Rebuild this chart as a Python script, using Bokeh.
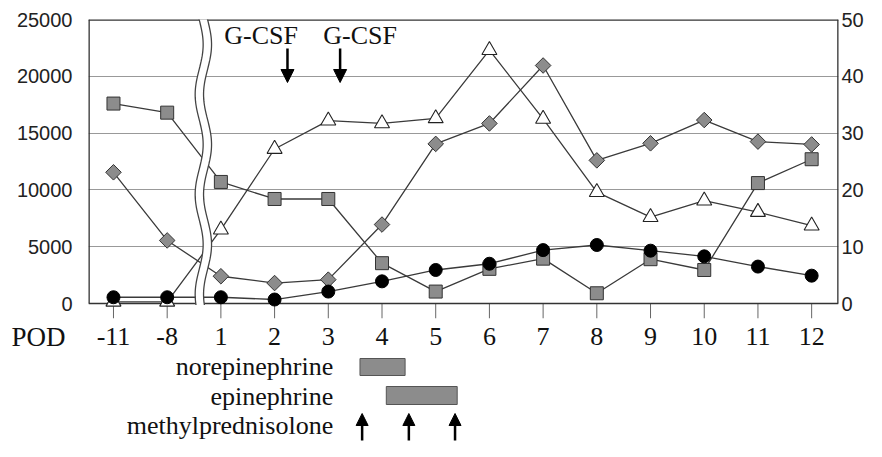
import numpy as np
from bokeh.plotting import figure
from bokeh.models import Range1d, LinearAxis, FixedTicker, Arrow, NormalHead
from bokeh.layouts import column
from bokeh.embed import file_html
from bokeh.resources import INLINE
from bokeh.core.properties import value

# ---- data ----
days = ["-11", "-8", "1", "2", "3", "4", "5", "6", "7", "8", "9", "10", "11", "12"]
square_vals = [17600, 16800, 10700, 9200, 9200, 3550, 1050, 3050, 3950, 900, 3900, 2950, 10600, 12700]
diamond_vals = [11550, 5550, 2400, 1800, 2100, 6950, 14050, 15850, 20950, 12600, 14100, 16150, 14250, 14000]
triangle_vals = [0.3, 0.3, 13.0, 27.2, 32.2, 31.7, 32.6, 44.6, 32.5, 19.6, 15.2, 18.1, 16.1, 13.7]   # right axis
circle_vals = [1.1, 1.1, 1.1, 0.7, 2.1, 3.9, 5.9, 7.0, 9.4, 10.3, 9.3, 8.3, 6.5, 4.9]             # right axis
left_ticks = [0, 5000, 10000, 15000, 20000, 25000]
right_ticks = [0, 10, 20, 30, 40, 50]
gcsf_pos = [3.24, 4.22]
treat_labels = ["norepinephrine", "epinephrine", "methylprednisolone"]
norepi_span = [4.59, 5.43]
epi_span = [5.08, 6.40]
mp_pos = [4.63, 5.50, 6.36]

pos = list(range(len(days)))
SERIF = "Liberation Serif"
SANS = "Liberation Sans"
LINE = "#3a3a3a"
TXT = 10                                   # baseline correction for text glyphs (px)

W = 866
FL, FR, FT, FB = 88, 839, 19, 303          # plot box edges (page px)
TICK = 15                                  # tick length below the box
x0, x1 = -0.465, 13.5
PX = (x1 - x0) / (FR - FL)                 # index units per px
PY = 25000 / (FB - FT)                     # value units per px
H1, H2, H3 = 320, 32, 89                   # main plot, day-label row, treatment rows
ylo = -TICK * PY                           # frame extends down to hold the x ticks

p = figure(width=W, height=H1, output_backend="svg", toolbar_location=None,
           x_range=Range1d(x0, x1), y_range=Range1d(ylo, 25000),
           min_border_left=FL, min_border_right=W - FR, min_border_top=FT,
           min_border_bottom=H1 - FB - TICK)
p.outline_line_color = None
p.extra_y_ranges = {"right": Range1d(ylo / 500.0, 50)}
p.xaxis.visible = False

# y axes
p.yaxis[0].ticker = FixedTicker(ticks=left_ticks)
ra = LinearAxis(y_range_name="right", ticker=FixedTicker(ticks=right_ticks))
p.add_layout(ra, "right")
for ax, so in ((p.yaxis[0], 16), (ra, 3)):
    ax.axis_line_color = None
    ax.major_tick_line_color = None
    ax.minor_tick_line_color = None
    ax.major_tick_out = 0
    ax.major_tick_in = 0
    ax.major_label_text_font = SANS
    ax.major_label_text_font_size = "20px"
    ax.major_label_text_color = "#222222"
    ax.major_label_standoff = so

p.xgrid.visible = False
p.ygrid.ticker = FixedTicker(ticks=left_ticks[1:])
p.ygrid.grid_line_color = "#999999"
p.ygrid.grid_line_width = 1

# x ticks (category positions) hanging below the box
p.segment(x0=pos, y0=[0] * len(pos), x1=pos, y1=[ylo] * len(pos), line_color="#666666", line_width=1)

# series lines
p.line(pos, square_vals, line_color=LINE, line_width=1.3)
p.line(pos, diamond_vals, line_color=LINE, line_width=1.3)
p.line(pos, triangle_vals, line_color=LINE, line_width=1.3, y_range_name="right")
p.line(pos, circle_vals, line_color=LINE, line_width=1.3, y_range_name="right")

# plot box
p.segment(x0=[x0, x1, x0], y0=[0, 0, 25000], x1=[x0, x1, x1], y1=[25000, 25000, 25000],
          line_color="#333333", line_width=2.6)
p.segment(x0=[x0], y0=[0], x1=[x1], y1=[0], line_color="#333333", line_width=1.4)

# axis break band
ys = np.linspace(-1.5 * PY, 26500, 240)
yp = FB - ys / PY
cx = 203 + 4.0 * np.sin(2 * np.pi * (yp - FT) / 100.0)
lx = (cx - 4.2 - 113) * PX
rx = (cx + 4.2 - 113) * PX
p.patch(np.concatenate([lx, rx[::-1]]), np.concatenate([ys, ys[::-1]]), fill_color="white", line_color=None)
p.line(lx, ys, line_color="#444444", line_width=1.3)
p.line(rx, ys, line_color="#444444", line_width=1.3)

# markers
p.scatter(pos, square_vals, marker="square", size=13, fill_color="#8c8c8c", line_color="#333333", line_width=1)
p.scatter(pos, diamond_vals, marker="square", angle=np.pi / 4, size=11, fill_color="#8c8c8c",
          line_color="#333333", line_width=1)
p.scatter(pos, triangle_vals, marker="triangle", size=15, fill_color="white", line_color="#222222",
          line_width=1.1, y_range_name="right")
p.scatter(pos, circle_vals, marker="circle", size=13, fill_color="black", line_color="black",
          y_range_name="right")

# G-CSF annotations
p.text(x=[(224 - 113) * PX, (323 - 113) * PX], y=[(FB - 45 + TXT) * PY] * 2, text=["G-CSF", "G-CSF"],
       text_font=value(SERIF), text_font_size="26px", text_align="left", text_baseline="alphabetic",
       text_color="#111111")
for gx in gcsf_pos:
    p.add_layout(Arrow(x_start=gx, y_start=(FB - 48) * PY, x_end=gx, y_end=(FB - 82) * PY,
                       line_width=2.5, line_color="black",
                       end=NormalHead(size=13, fill_color="black", line_color="black")))

# day-label row with "POD"
p_lab = figure(width=W, height=H2, output_backend="svg", toolbar_location=None,
               x_range=p.x_range, y_range=Range1d(0, H2),
               min_border_left=FL, min_border_right=W - FR, min_border_top=0, min_border_bottom=0)
p_lab.outline_line_color = None
p_lab.xaxis.visible = False
p_lab.grid.visible = False
la = p_lab.yaxis[0]
la.ticker = FixedTicker(ticks=[])
la.axis_line_color = None
la.major_tick_line_color = None
la.minor_tick_line_color = None
la.major_tick_out = 0
la.major_tick_in = 0
la.axis_label = "POD"
la.axis_label_orientation = "horizontal"
la.axis_label_text_font = SERIF
la.axis_label_text_font_style = "normal"
la.axis_label_text_font_size = "27px"
la.axis_label_text_color = "#111111"
la.axis_label_standoff = 23
p_lab.text(x=pos, y=[H1 + H2 - (346 - TXT)] * len(pos), text=days, text_font=value(SERIF),
           text_font_size="26px", text_align="center", text_baseline="alphabetic", text_color="#111111")

# treatment rows
p3 = figure(width=W, height=H3, output_backend="svg", toolbar_location=None,
            x_range=p.x_range, y_range=Range1d(0, H3),
            min_border_left=FL, min_border_right=W - FR, min_border_top=0, min_border_bottom=0)
p3.outline_line_color = None
p3.axis.visible = False
p3.grid.visible = False
bottom_page = H1 + H2 + H3


def yv(page_y):
    return bottom_page - page_y


p3.text(x=[(333 - 113) * PX] * 3, y=[yv(376 - TXT), yv(406 - TXT), yv(435 - TXT)], text=treat_labels,
        text_font=value(SERIF), text_font_size="26px", text_align="right", text_baseline="alphabetic",
        text_color="#111111")
p3.quad(left=[norepi_span[0], epi_span[0]], right=[norepi_span[1], epi_span[1]],
        bottom=[yv(375), yv(404)], top=[yv(358), yv(386)], fill_color="#8c8c8c", line_color="#555555",
        line_width=1)
for mx in mp_pos:
    p3.add_layout(Arrow(x_start=mx, y_start=yv(440), x_end=mx, y_end=yv(413), line_width=2.5,
                        line_color="black", end=NormalHead(size=12, fill_color="black", line_color="black")))

layout = column(p, p_lab, p3, spacing=0)
open("out.html", "w").write(file_html(layout, INLINE))
